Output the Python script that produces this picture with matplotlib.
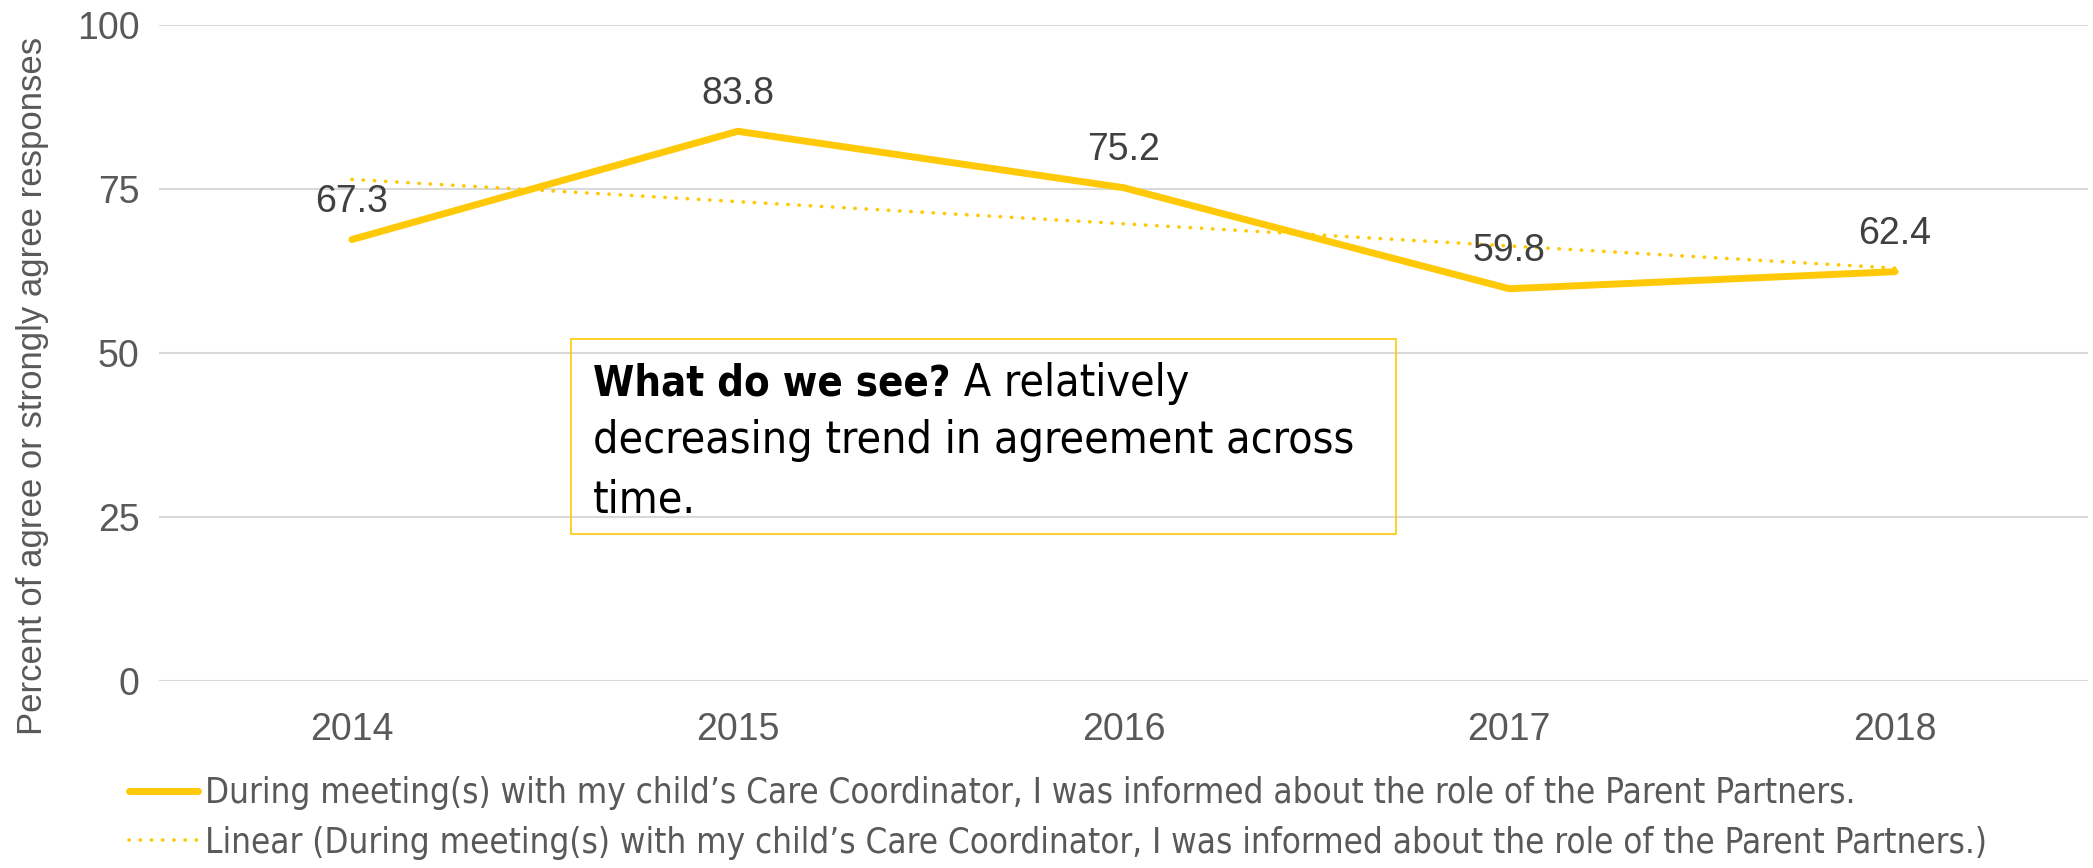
import numpy as np
import matplotlib.pyplot as plt
from matplotlib.lines import Line2D
from matplotlib.patches import Rectangle

# survey results per year
years = ['2014', '2015', '2016', '2017', '2018']
agree_pct = [67.3, 83.8, 75.2, 59.8, 62.4]
series_name = 'During meeting(s) with my child\u2019s Care Coordinator, I was informed about the role of the Parent Partners.'
yticks = [0, 25, 50, 75, 100]

gold = '#FFC907'
grey = '#595959'
narrow = {'family': 'DejaVu Sans', 'stretch': 'condensed'}
dotted = (0, (0.1, 3))

fig = plt.figure(figsize=(20.93, 8.68), dpi=100)
ax = fig.add_axes([0.076, 0.2154, 0.9216, 0.7558])

x = np.arange(len(years))
ax.plot(x, agree_pct, color=gold, lw=5, solid_capstyle='round', solid_joinstyle='round', zorder=3)

# linear trend line (least squares, like the spreadsheet trendline)
slope, intercept = np.polyfit(x, agree_pct, 1)
trend = slope * x + intercept
ax.plot(x, trend, color=gold, lw=2.6, linestyle=dotted, dash_capstyle='round', zorder=2)

# value labels above each point
for xi, v in zip(x, agree_pct):
    ax.annotate(f'{v:.1f}', (xi, v), xytext=(0, 27), textcoords='offset points',
                ha='center', va='center', fontsize=27, color='#404040', family='Liberation Sans')

ax.set_xlim(-0.5, len(years) - 0.5)
ax.set_ylim(0, 100)
ax.set_xticks(x)
ax.set_xticklabels(years)
ax.set_yticks(yticks)
ax.tick_params(length=0, labelsize=27, labelcolor=grey, pad=14)
ax.tick_params(axis='x', pad=22)
for lab in ax.get_xticklabels() + ax.get_yticklabels():
    lab.set_family('Liberation Sans')
ax.grid(axis='y', color='#D9D9D9', lw=1.5)
ax.set_axisbelow(True)
for s in ax.spines.values():
    s.set_visible(False)

fig.text(0.0153, 0.5553, 'Percent of agree or strongly agree responses', rotation=90,
         ha='center', va='center', fontsize=25, color=grey, family='Liberation Sans')

# callout box
ax.add_patch(Rectangle((0.2136, 0.224), 0.4277, 0.2973, transform=ax.transAxes,
                       fill=False, edgecolor=gold, lw=1.2, zorder=4))
t1 = ax.text(0.225, 0.4345, 'What do we see?', transform=ax.transAxes, fontsize=30,
             fontweight='bold', va='baseline', color='black', **narrow)
ax.annotate(' A relatively', xy=(1, 0), xycoords=t1, va='bottom', fontsize=32,
            color='black', **narrow)
ax.text(0.225, 0.3476, 'decreasing trend in agreement across', transform=ax.transAxes,
        fontsize=32, va='baseline', color='black', **narrow)
ax.text(0.225, 0.2576, 'time.', transform=ax.transAxes,
        fontsize=32, va='baseline', color='black', **narrow)

handles = [Line2D([], [], color=gold, lw=5, solid_capstyle='round'),
           Line2D([], [], color=gold, lw=2.6, linestyle=dotted, dash_capstyle='round')]
labels = [series_name, f'Linear ({series_name})']
fig.legend(handles, labels, loc='upper left', bbox_to_anchor=(0.055, 0.122), frameon=False,
           prop={'size': 25, **narrow}, labelcolor=grey,
           handlelength=2.0, handletextpad=0.2, labelspacing=0.45, borderaxespad=0)

fig.savefig('out.png', dpi=100)
